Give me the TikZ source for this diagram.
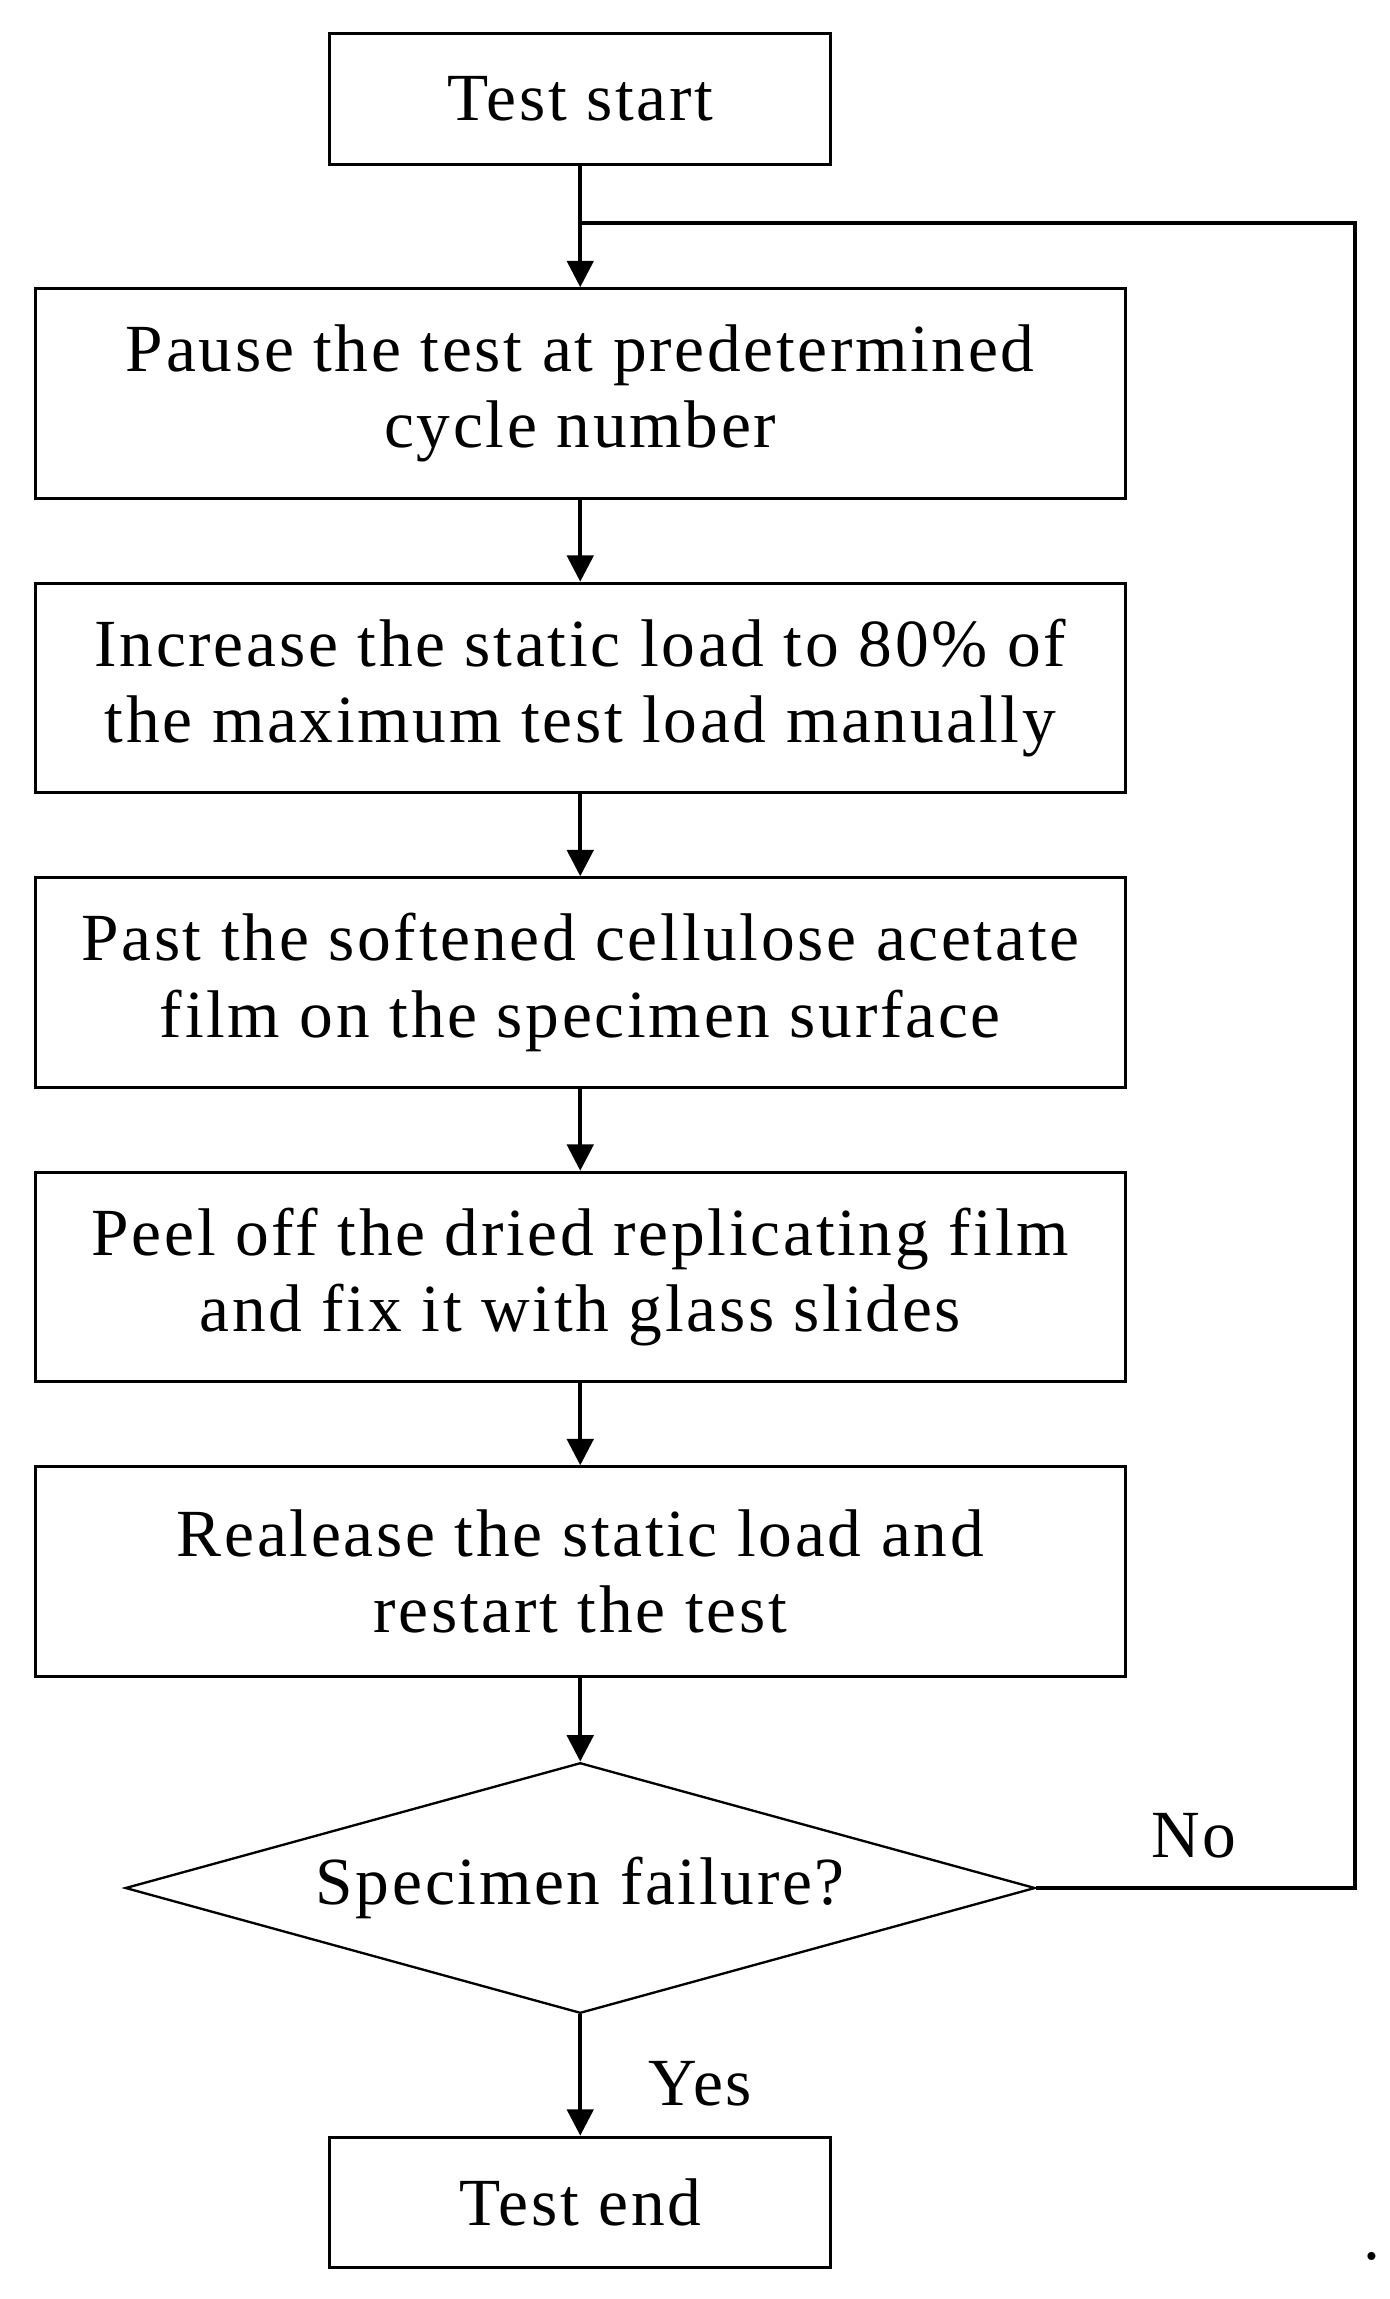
\documentclass[tikz,border=0pt]{standalone}
\usepackage{fontspec}
\setmainfont{Liberation Serif}[LetterSpace=4]
\usetikzlibrary{shapes.geometric,arrows.meta}
\begin{document}
\begin{tikzpicture}[x=0.5pt,y=-0.5pt,
  box/.style={draw,line width=1pt,minimum width=372pt,minimum height=71.5pt,align=center,font=\fontsize{23}{26}\selectfont,inner sep=0pt},
  sbox/.style={draw,line width=1pt,minimum width=171pt,minimum height=44.5pt,font=\fontsize{23}{26}\selectfont,inner sep=0pt},
  arr/.style={line width=1.3pt,-{Triangle[length=9pt,width=9pt]}},
  lbl/.style={font=\fontsize{23}{26}\selectfont}]
\useasboundingbox (0,0) rectangle (948,1569);
\node[sbox] (s) at (396,67.5) {Test start};
\node[box] (b1) at (396,268.5) {Pause the test at predetermined\\cycle number};
\node[box] (b2) at (396,469.5) {Increase the static load to 80\% of\\the maximum test load manually};
\node[box] (b3) at (396,670.5) {Past the softened cellulose acetate\\film on the specimen surface};
\node[box] (b4) at (396,871.5) {Peel off the dried replicating film\\and fix it with glass slides};
\node[box] (b5) at (396,1072.5) {Realease the static load and\\restart the test};
\node[draw,diamond,aspect=3.63,line width=0.8pt,minimum width=310.5pt,minimum height=85.5pt,inner sep=0pt,font=\fontsize{23}{26}\selectfont] (d) at (396,1288.5) {Specimen failure?};
\node[sbox] (e) at (396,1503) {Test end};
\coordinate (j) at (396,152);
\coordinate (c1) at (925,1288.5);
\coordinate (c2) at (925,152);
\draw[arr] (s) -- (b1);
\draw[arr] (b1) -- (b2);
\draw[arr] (b2) -- (b3);
\draw[arr] (b3) -- (b4);
\draw[arr] (b4) -- (b5);
\draw[arr] (b5) -- (d);
\draw[arr] (d) -- (e);
\draw[line width=1.3pt] (d.east) -- (c1) -- (c2) -- (j);
\node[lbl] (no) at (815,1253) {No};
\node[lbl] (yes) at (478,1422) {Yes};
\node[lbl] (dot) at (936,1540) {.};
\end{tikzpicture}
\end{document}
